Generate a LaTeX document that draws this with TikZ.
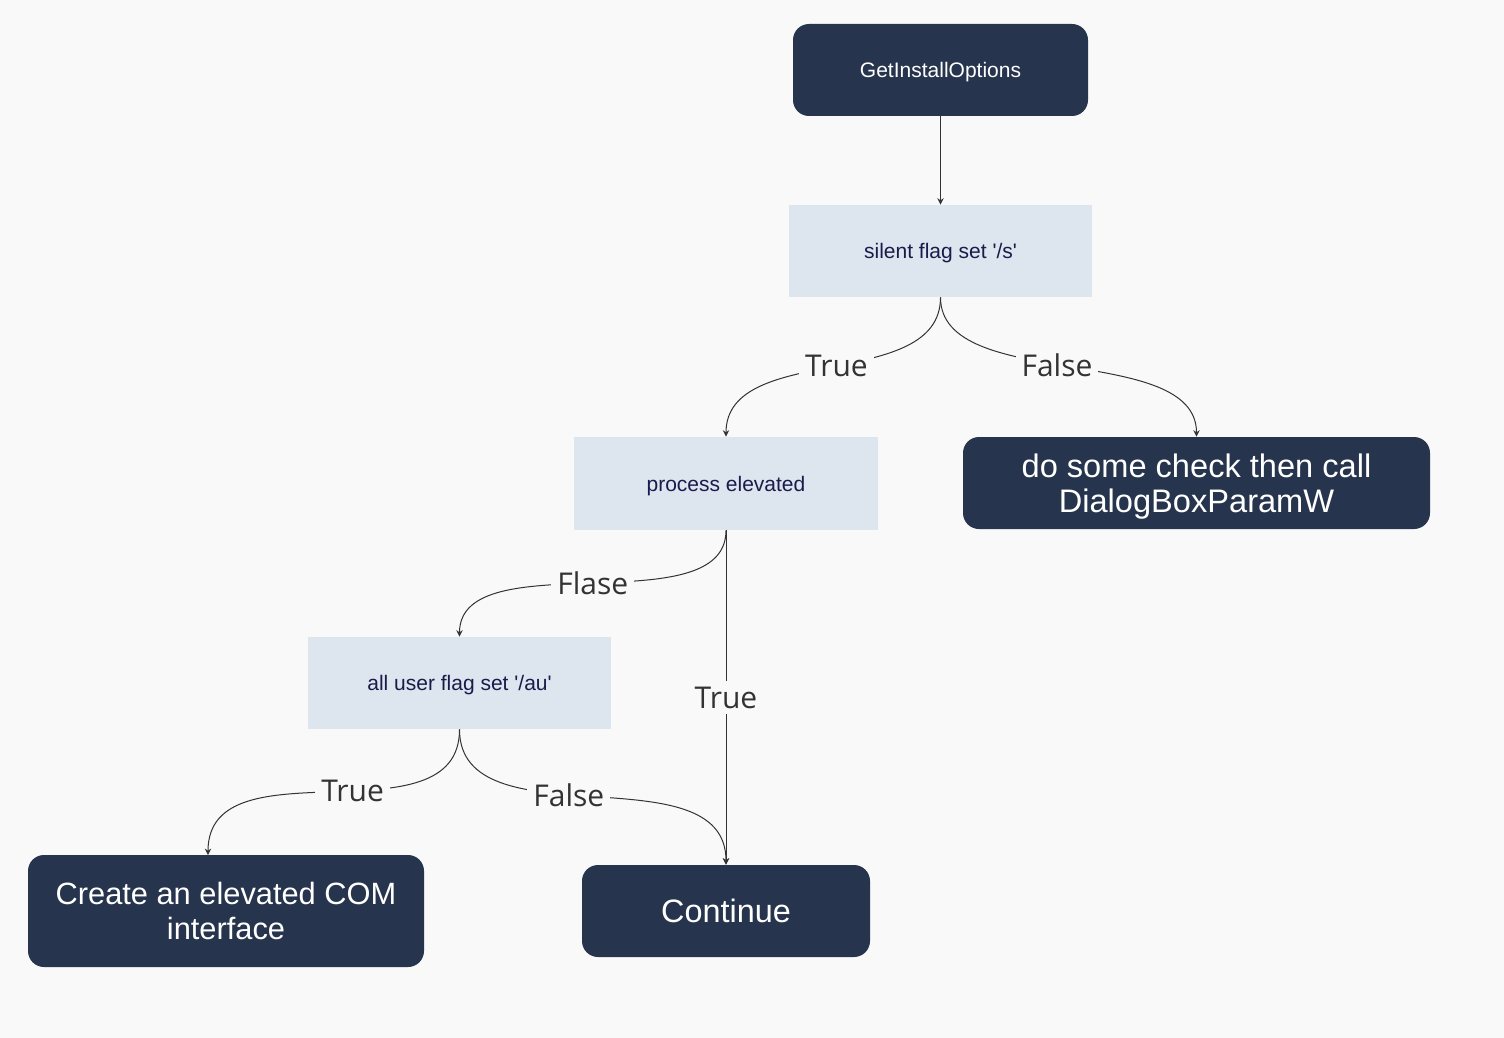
\documentclass[tikz,border=0pt]{standalone}
\usepackage{fontspec}
\setmainfont{Liberation Sans}
\newfontfamily\lblfont{Open Sans}
\usetikzlibrary{arrows.meta}
\definecolor{bgc}{HTML}{F9F9F9}
\definecolor{darkbox}{HTML}{26354D}
\definecolor{lightbox}{HTML}{DDE5EE}
\definecolor{lighttext}{HTML}{1B1B4B}
\definecolor{edgec}{HTML}{333333}
\begin{document}
\begin{tikzpicture}[x=0.5pt,y=-0.5pt,
  darknode/.style={fill=darkbox,text=white,rounded corners=8pt,inner sep=0pt,align=center,text depth=0pt},
  lightnode/.style={fill=lightbox,text=lighttext,inner sep=0pt,align=center,text depth=0pt,font=\fontsize{10.5}{13}\selectfont},
  conn/.style={draw=edgec,line width=0.5pt,-{Stealth[length=3.2pt,width=3.2pt]}},
  elabel/.style={fill=bgc,text=edgec,inner xsep=3pt,inner ysep=1pt,font=\lblfont\fontsize{15}{18}\selectfont}]
\fill[bgc] (0,0) rectangle (1504,1038);
\useasboundingbox (0,0) rectangle (1504,1038);

\node[darknode,minimum width=147.5pt,minimum height=46pt,font=\fontsize{10.5}{13}\selectfont] (get) at (940.5,70) {GetInstallOptions};
\node[lightnode,minimum width=151.5pt,minimum height=46pt] (silent) at (940.5,251) {silent flag set \textquotesingle/s\textquotesingle};
\node[lightnode,minimum width=152pt,minimum height=46.5pt] (proc) at (726,483.5) {process elevated};
\node[darknode,minimum width=233.5pt,minimum height=46pt,font=\fontsize{16.3}{17.5}\selectfont] (check) at (1196.5,483) {do some check then call\\DialogBoxParamW};
\node[lightnode,minimum width=151.5pt,minimum height=46pt] (all) at (459.5,683) {all user flag set \textquotesingle/au\textquotesingle};
\node[darknode,minimum width=198pt,minimum height=56pt,font=\fontsize{15.4}{17.5}\selectfont] (com) at (226,911) {Create an elevated COM\\interface};
\node[darknode,minimum width=144pt,minimum height=46pt,font=\fontsize{16.2}{19}\selectfont] (cont) at (726,911) {Continue};

\coordinate (comin) at (208,855);
\draw[conn] (get.south) -- (silent.north);
\draw[conn] (silent.south) .. controls +(0,95) and +(0,-95) .. node[elabel,pos=0.49]{True} (proc.north);
\draw[conn] (silent.south) .. controls +(0,95) and +(0,-95) .. node[elabel,pos=0.47]{False} (check.north);
\draw[conn] (proc.south) .. controls +(0,95) and +(0,-95) .. node[elabel,pos=0.5]{Flase} (all.north);
\draw[conn] (proc.south) -- node[elabel,inner ysep=3pt]{True} (cont.north);
\draw[conn] (all.south) .. controls +(0,115) and +(0,-115) .. node[elabel,pos=0.45]{True} (comin);
\draw[conn] (all.south) .. controls +(0,115) and +(0,-115) .. node[elabel,pos=0.44]{False} (cont.north);
\end{tikzpicture}
\end{document}
